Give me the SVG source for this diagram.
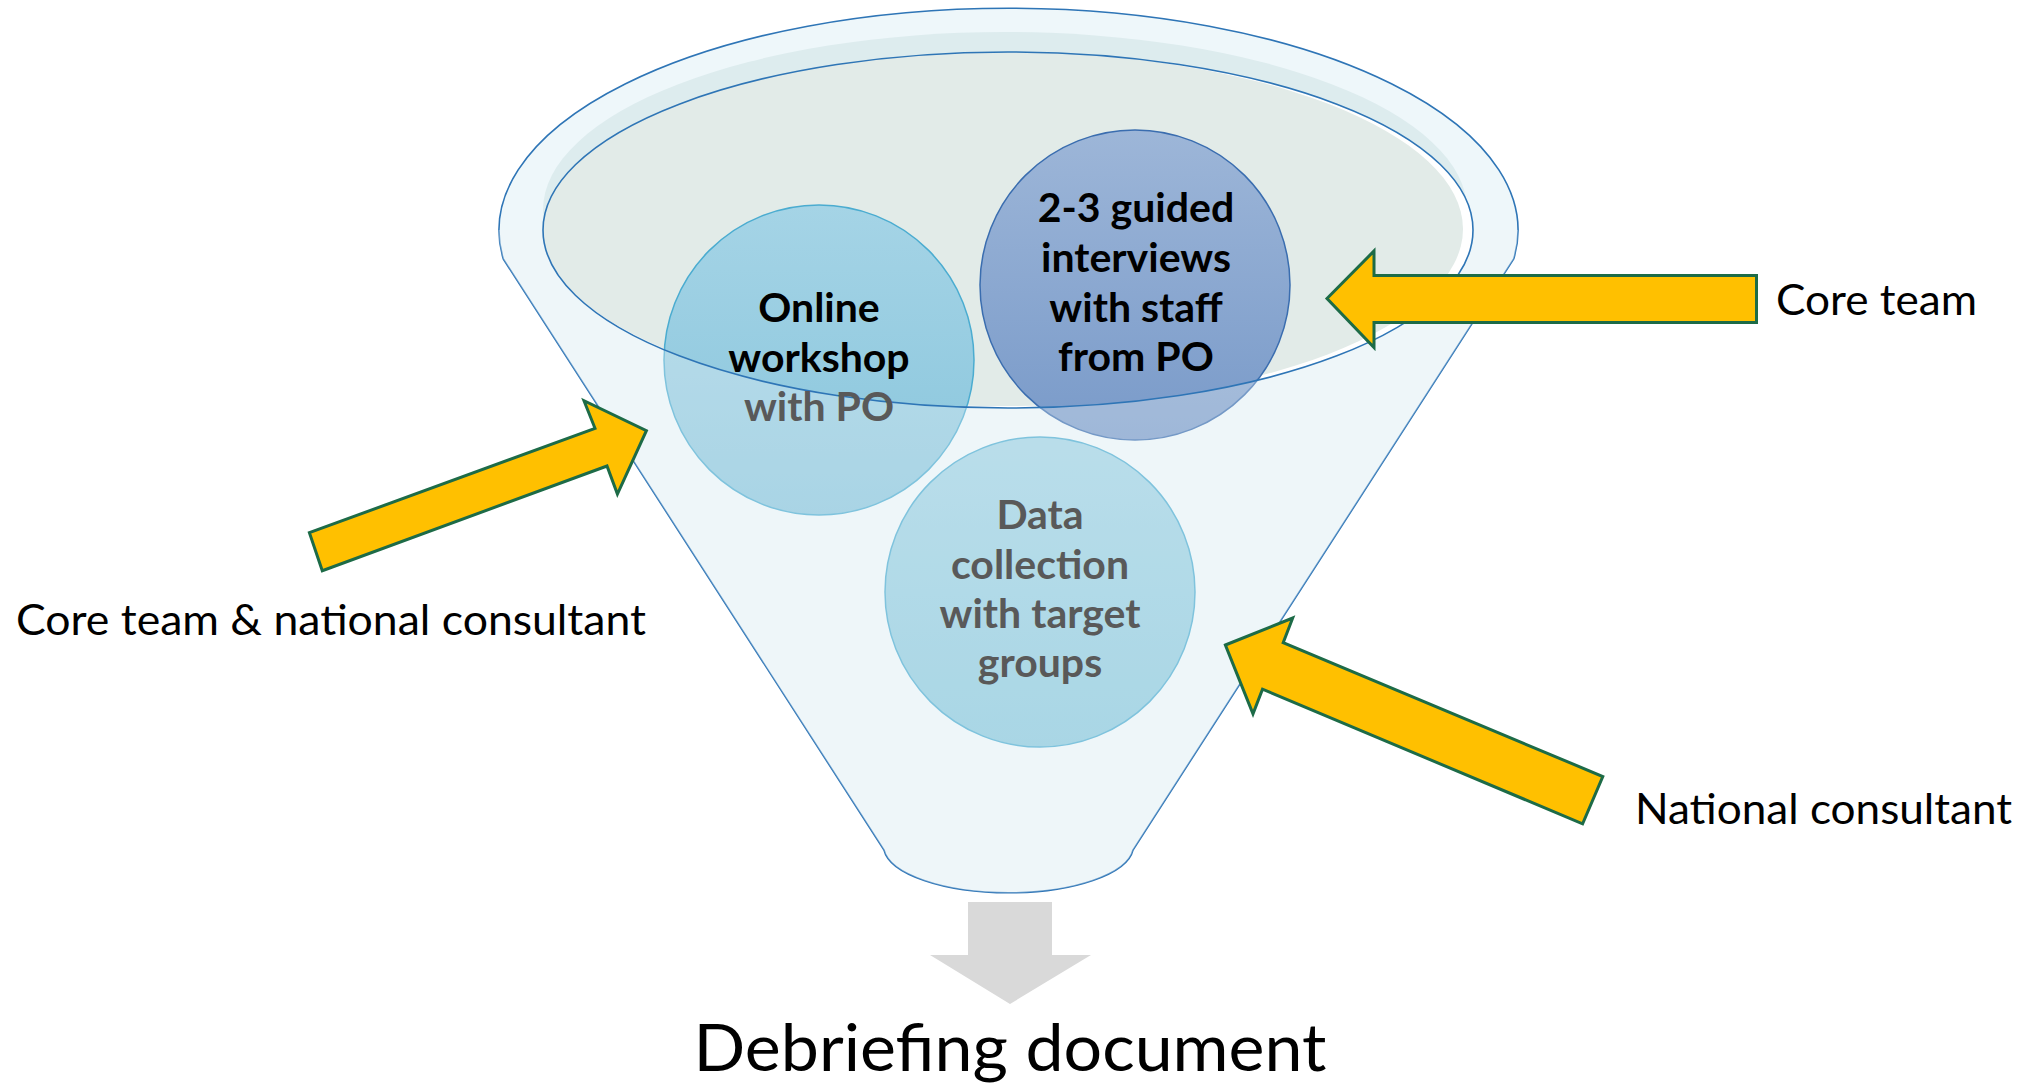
<svg xmlns="http://www.w3.org/2000/svg" width="2031" height="1083" viewBox="0 0 2031 1083">
  <style>
    .outline { stroke: #2E75B6; stroke-width: 1.6; }
    .label { font-family: Lato, "Liberation Sans", sans-serif; font-size: 43px; fill: #000000; }
    .step { font-family: Lato, "Liberation Sans", sans-serif; font-weight: 700; font-size: 41px; text-anchor: middle; }
    .dark { fill: #000000; }
    .muted { fill: #595959; }
    .push { fill: #FFC000; stroke: #1D6B47; stroke-width: 3; stroke-linejoin: miter; }
  </style>
  <defs>
    <linearGradient id="gLight" x1="0" y1="0" x2="0" y2="1">
      <stop offset="0" stop-color="#A5D4E6"/>
      <stop offset="1" stop-color="#88C5DC"/>
    </linearGradient>
    <linearGradient id="gBlue" x1="0" y1="0" x2="0" y2="1">
      <stop offset="0" stop-color="#9DB6D8"/>
      <stop offset="1" stop-color="#799AC9"/>
    </linearGradient>
    <linearGradient id="gData" x1="0" y1="0" x2="0" y2="1">
      <stop offset="0" stop-color="#A0D2E4"/>
      <stop offset="1" stop-color="#88C8DC"/>
    </linearGradient>
  </defs>

  <!-- funnel: rim and cone (back) -->
  <g id="funnel">
    <path class="outline" fill="#EEF7FA"
          d="M503.3,259 L884,850 A125,47 0 0 0 1133,850 L1513.7,259 A509.5,222 0 1 0 503.3,259 Z"/>
    <ellipse cx="1005" cy="210" rx="462" ry="178" fill="#DDECEE"/>
    <ellipse cx="1008" cy="230" rx="465" ry="178" fill="#FFFFFF"/>
    <ellipse cx="1003" cy="229" rx="460" ry="177" fill="#E2EBE8"/>
  </g>

  <!-- steps poured into the funnel -->
  <g id="node-workshop">
    <circle cx="819" cy="360" r="155" fill="url(#gLight)" stroke="#4BACD0" stroke-width="1.5"/>
  </g>
  <g id="node-interviews">
    <circle cx="1135" cy="285" r="155" fill="url(#gBlue)" stroke="#3A6DAF" stroke-width="1.5"/>
  </g>
  <g id="node-data">
    <circle cx="1040" cy="592" r="155" fill="url(#gData)" stroke="#4BACD0" stroke-width="1.5"/>
  </g>

  <!-- translucent front face of the cone -->
  <path fill="#EEF7FA" fill-opacity="0.32"
        d="M543,230 A465,178 0 0 0 1473,230 L1518,230 A509.5,222 0 0 1 1513.7,259 L1133,850 A125,47 0 0 1 884,850 L503.3,259 A509.5,222 0 0 1 498.5,230 Z"/>
  <ellipse class="outline" cx="1008" cy="230" rx="465" ry="178" fill="none"/>

  <!-- step labels -->
  <g id="text-workshop" class="step">
    <text x="819" y="322" class="dark">Online</text>
    <text x="819" y="372" class="dark">workshop</text>
    <text x="819" y="421" class="muted">with PO</text>
  </g>
  <g id="text-interviews" class="step">
    <text x="1136" y="222" class="dark">2-3 guided</text>
    <text x="1136" y="272" class="dark">interviews</text>
    <text x="1136" y="322" class="dark">with staff</text>
    <text x="1136" y="371" class="dark">from PO</text>
  </g>
  <g id="text-data" class="step">
    <text x="1040" y="529" class="muted">Data</text>
    <text x="1040" y="579" class="muted">collection</text>
    <text x="1040" y="628" class="muted">with target</text>
    <text x="1040" y="677" class="muted">groups</text>
  </g>

  <!-- contributors pushing into the funnel -->
  <g id="connectors">
    <polygon class="push" points="1327,298.5 1374,251 1374,275.5 1756.5,275.5 1756.5,322.5 1374,322.5 1374,347.5"/>
    <polygon class="push" points="309.4,532.7 595,428.3 584,400.7 646.4,430.7 617.4,494 607,466 322.3,570.7"/>
    <polygon class="push" points="1225.4,645 1292.7,618 1283.2,642.7 1602.8,776.5 1582.6,823.8 1262.5,689.2 1253,713.8"/>
    <polygon fill="#D9D9D9" points="968,902 1052,902 1052,955 1091,955 1010,1004 930,955 968,955"/>
  </g>

  <g id="label-core">
    <text class="label" x="1776" y="315" textLength="201" lengthAdjust="spacingAndGlyphs">Core team</text>
  </g>
  <g id="label-core-national">
    <text class="label" x="16" y="635" textLength="630" lengthAdjust="spacingAndGlyphs">Core team &amp; national consultant</text>
  </g>
  <g id="label-national">
    <text class="label" x="1635" y="824" textLength="377" lengthAdjust="spacingAndGlyphs">National consultant</text>
  </g>
  <g id="label-output">
    <text x="1010" y="1071" text-anchor="middle" font-family="Lato, 'Liberation Sans', sans-serif" font-size="66" textLength="633" lengthAdjust="spacingAndGlyphs">Debriefing document</text>
  </g>
</svg>
